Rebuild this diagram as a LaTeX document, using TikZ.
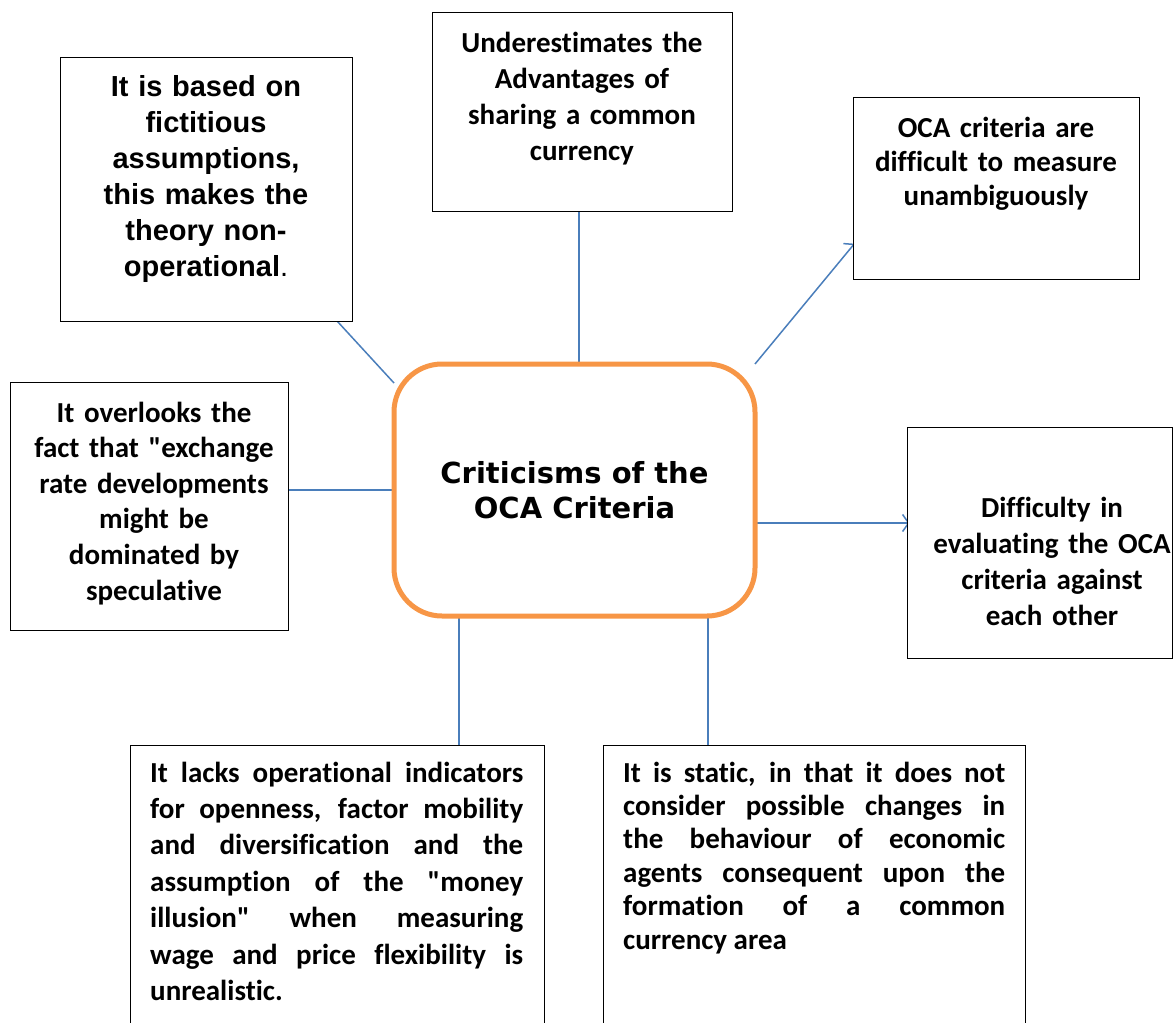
\documentclass[tikz,border=0pt]{standalone}
\usepackage{fontspec}
\setmainfont{Carlito}[Ligatures={NoCommon,TeXOff}]
\newfontfamily\arialf{Liberation Sans}
\newfontfamily\verdf{DejaVu Sans}
\usetikzlibrary{arrows.meta,backgrounds}
\definecolor{conn}{HTML}{4A7EBB}
\definecolor{orng}{HTML}{F79646}
\hbadness=10000
\hyphenpenalty=10000
\begin{document}
\begin{tikzpicture}[x=1pt,y=-1pt,
  box/.style={draw=black,line width=1pt,fill=white,inner sep=0pt},
  txt/.style={inner sep=0pt,anchor=north},
  cfont/.style={font=\bfseries\fontsize{29}{#1}\selectfont},
  link/.style={draw=conn,line width=1.5pt},
  tip/.style={-{Straight Barb[length=6pt,width=17pt]},shorten >=-3pt}]
\useasboundingbox (0,0) rectangle (1173,1023);
\clip (0,0) rectangle (1173,1023);
% boxes
\node[box,minimum width=292pt,minimum height=264pt] (tl) at (206,189) {};
\node[box,minimum width=300pt,minimum height=199pt] (tc) at (582,111.5) {};
\node[box,minimum width=286pt,minimum height=182pt] (tr) at (996,188) {};
\node[box,minimum width=278pt,minimum height=248pt] (lb) at (149,506) {};
\node[box,minimum width=265pt,minimum height=231pt] (rb) at (1039.5,542.5) {};
\node[box,minimum width=414pt,minimum height=300pt] (bl) at (337,895) {};
\node[box,minimum width=422pt,minimum height=300pt] (br) at (814,895) {};
\node[draw=orng,line width=5pt,fill=white,rounded corners=48pt,outer sep=0pt,
      minimum width=361pt,minimum height=252pt,align=center,
      font=\verdf\bfseries\fontsize{29}{35}\selectfont] (cen) at (574.5,490)
      {Criticisms of the\\OCA Criteria};
% texts
\node[txt,text width=290pt,align=center,font=\arialf\bfseries\fontsize{29}{36}\selectfont] (tlt) at (206,75)
  {It is based on\\fictitious\\assumptions,\\this makes the\\theory non-\\operational{\mdseries.}};
\node[txt,cfont=36,text width=290pt,align=center] (tct) at (582,31.5)
  {Underestimates the\\Advantages of\\sharing a common\\currency};
\node[txt,cfont=34,text width=280pt,align=center] (trt) at (996,116.5)
  {OCA criteria are\\difficult to measure\\unambiguously};
\node[txt,cfont=36,text width=260pt,align=center] (rbt) at (1052,496.5)
  {Difficulty in\\evaluating the OCA\\criteria against\\each other};
\node[txt,cfont=35.6,text width=270pt,align=center] (lbt) at (154,401.5)
  {It overlooks the\\fact that "exchange\\rate developments\\might be\\dominated by\\speculative};
\node[txt,anchor=north west,cfont=36.4,text width=373pt,align=justify] (blt) at (150,761.5)
  {It lacks operational indicators\linebreak for openness, factor mobility\linebreak and diversification and the\linebreak assumption of the "money\linebreak illusion" when measuring\linebreak wage and price flexibility is\linebreak unrealistic.};
\node[txt,anchor=north west,cfont=33.4,text width=382pt,align=justify] (brt) at (623,761.5)
  {It is static, in that it does not\linebreak consider possible changes in\linebreak the behaviour of economic\linebreak agents consequent upon the\linebreak formation of a common\linebreak currency area};
% connectors
\coordinate (r1) at ([yshift=-33pt]cen.east);
\coordinate (b1) at ([xshift=-115.5pt]cen.south);
\coordinate (b2) at ([xshift=133.5pt]cen.south);
\begin{pgfonlayer}{background}
\draw[link] ([xshift=-15pt]tl.south east) -- ([yshift=-19pt]cen.north west);
\draw[link] ([xshift=-3pt]tc.south) -- ([xshift=4.5pt]cen.north);
\draw[link,tip] (cen.north east) -- ([yshift=-58pt]tr.west);
\draw[link] (lb.east |- cen.west) -- (cen.west);
\draw[link,tip] (r1) -- (r1 -| rb.west);
\draw[link] (b1) -- (b1 |- bl.north);
\draw[link] (b2) -- (b2 |- br.north);
\end{pgfonlayer}
\end{tikzpicture}
\end{document}
